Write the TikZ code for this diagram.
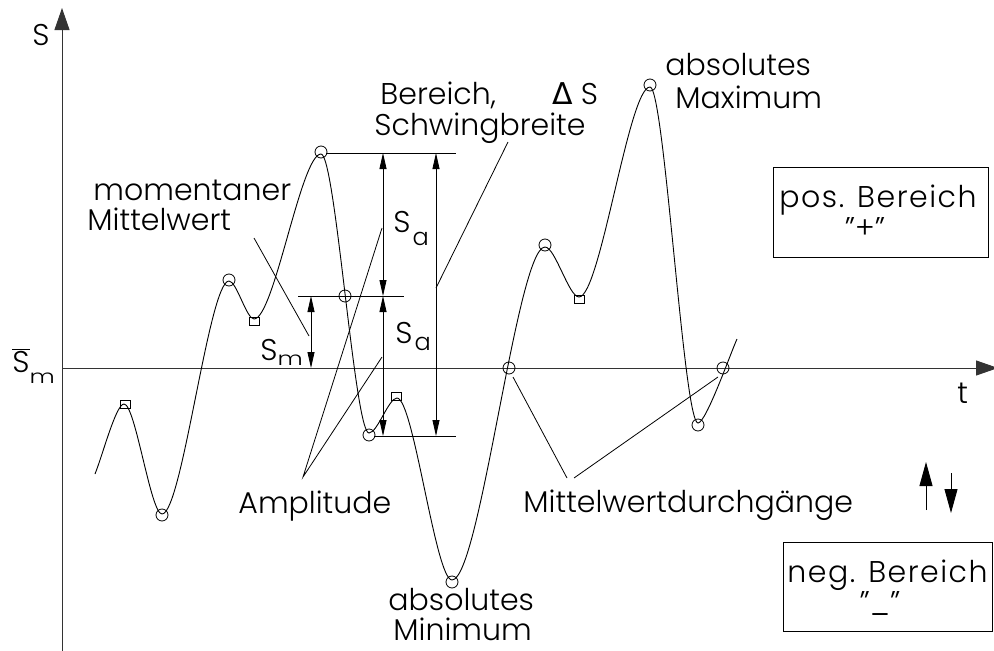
\documentclass[tikz,border=0pt]{standalone}
\usepackage{fontspec}
\setmainfont{Poppins}[UprightFont={* Light}]
\newfontfamily\dejavu{DejaVu Sans}
\usetikzlibrary{arrows.meta}
\begin{document}
\begin{tikzpicture}[x=1pt,y=-1pt, line width=0.9pt,
  lbl/.style={font=\fontsize{30}{30}\selectfont, inner sep=0pt, anchor=base west},
  lblc/.style={font=\fontsize{30}{30}\selectfont, inner sep=0pt, anchor=base},
  boxlbl/.style={font=\fontsize{30}{30}\selectfont\addfontfeatures{LetterSpace=5}, inner sep=0pt, anchor=base west},
  dim/.style={line width=0.8pt, {Triangle[length=16pt,width=7pt]}-{Triangle[length=16pt,width=7pt]}},
  lead/.style={line width=0.8pt},
  mk/.style={circle, draw, minimum size=12pt, inner sep=0pt, line width=0.8pt},
  sq/.style={rectangle, draw, minimum width=10pt, minimum height=8pt, inner sep=0pt, line width=0.8pt},
  axis/.style={line width=1pt, draw=black!80, -{Triangle[length=22pt,width=15pt]}},
  bigarrow/.style={line width=0.9pt, -{Triangle[length=24pt,width=13pt]}},
  boxst/.style={draw, line width=1pt},
]
\useasboundingbox (0,0) rectangle (994,651);

% axes
\coordinate (yb) at (62,651); \coordinate (yt) at (62,8);
\coordinate (xl) at (62,368); \coordinate (xr) at (998,368);
\draw[axis] (yb) -- (yt);
\draw[axis] (xl) -- (xr);
\node[lbl] (lS) at (32,45) {S};
\node[lbl] (lt) at (957,403) {t};
\node[lbl] (lSm) at (12,372) {$\overline{\mbox{S}}$\raisebox{-11pt}{\scalebox{1.3}[1]{\fontsize{19}{19}\selectfont m}}};

% curve
\coordinate (P0) at (95,474);
\coordinate (P1) at (124,404);
\coordinate (P2) at (162,514);
\coordinate (P3) at (229,281);
\coordinate (P4) at (254,319);
\coordinate (P5) at (321,154);
\coordinate (P6) at (369,433);
\coordinate (P7) at (397,398);
\coordinate (P8) at (452,580);
\coordinate (P9) at (545,247);
\coordinate (P10) at (579,297);
\coordinate (P11) at (650,87);
\coordinate (P12) at (698,423);
\coordinate (P13) at (737,339);
\draw[line width=0.9pt] (P0) .. controls (103,454) and (116,404) .. (P1)
  .. controls (135.4,404) and (150.6,514) .. (P2)
  .. controls (182.1,514) and (208.9,281) .. (P3)
  .. controls (236.5,281) and (246.5,319) .. (P4)
  .. controls (274.1,319) and (300.9,154) .. (P5)
  .. controls (335.4,154) and (354.6,433) .. (P6)
  .. controls (377.4,433) and (388.6,398) .. (P7)
  .. controls (413.5,398) and (435.5,580) .. (P8)
  .. controls (479.9,580) and (517.1,247) .. (P9)
  .. controls (555.2,247) and (568.8,297) .. (P10)
  .. controls (600.3,297) and (628.7,87) .. (P11)
  .. controls (664.4,87) and (683.6,423) .. (P12)
  .. controls (706,423) and (731,352) .. (P13);

% markers
\node[mk] (m1) at (162,515) {};
\node[mk] (m2) at (229,280) {};
\node[mk] (m3) at (321,152) {};
\node[mk] (m4) at (345,296) {};
\node[mk] (m5) at (369,435) {};
\node[mk] (m6) at (452,582) {};
\node[mk] (m7) at (509,368) {};
\node[mk] (m8) at (545,245) {};
\node[mk] (m9) at (650,85) {};
\node[mk] (m10) at (698,425) {};
\node[mk] (m11) at (723,368) {};
\node[sq] (s1) at (125,404) {};
\node[sq] (s2) at (254,321.5) {};
\node[sq] (s3) at (396,396.5) {};
\node[sq] (s4) at (579.5,299) {};

% extension lines
\coordinate (eT1) at (326,153); \coordinate (eT2) at (456,153);
\coordinate (eM1) at (298,296); \coordinate (eM2) at (404,296);
\coordinate (eB1) at (374,436); \coordinate (eB2) at (456,436);
\draw[lead] (eT1) -- (eT2);
\draw[lead] (eM1) -- (eM2);
\draw[lead] (eB1) -- (eB2);

% dimension lines
\coordinate (dmT) at (311,296); \coordinate (dmB) at (311,368);
\coordinate (daT) at (383,153); \coordinate (daM) at (383,296); \coordinate (daB) at (383,436);
\coordinate (dsT) at (436,153); \coordinate (dsB) at (436,436);
\draw[dim] (dmT) -- (dmB);
\draw[dim] (daT) -- (daM);
\draw[dim] (daM) -- (daB);
\draw[dim] (dsT) -- (dsB);

% dimension labels
\node[lbl] (lSm2) at (260,360) {S\raisebox{-5pt}{\scalebox{1.3}[1]{\fontsize{19}{19}\selectfont m}}};
\node[lbl] (lSa1) at (393,232) {S\hspace{2pt}\raisebox{-13pt}{\fontsize{24}{24}\selectfont a}};
\node[lbl] (lSa2) at (395,343) {S\hspace{2pt}\raisebox{-7pt}{\fontsize{24}{24}\selectfont a}};

% texts
\node[lbl] (tmom) at (93,200) {momentaner};
\node[lbl] (tmit) at (87,230) {Mittelwert};
\node[lbl] (tber) at (380,104) {Bereich,};
\node[lbl] (tds) at (552,104) {{\dejavu Δ}\hspace{8pt}S};
\node[lbl] (tsch) at (374,135) {Schwingbreite};
\node[lbl] (tabs1) at (665,75) {absolutes};
\node[lbl] (tmax) at (675,108) {Maximum};
\node[lbl] (tamp) at (238,513) {Amplitude};
\node[lbl] (tmwd) at (523,512) {Mittelwertdurchgänge};
\node[lbl] (tabs2) at (388,610) {absolutes};
\node[lbl] (tmin) at (393,640) {Minimum};

% leaders
\coordinate (lm1) at (254,238); \coordinate (lm2) at (309,336);
\draw[lead] (lm1) -- (lm2);
\coordinate (la0) at (303,477); \coordinate (la1) at (382,228); \coordinate (la2) at (382,357);
\draw[lead] (la1) -- (la0) -- (la2);
\coordinate (lb1) at (508,142); \coordinate (lb2) at (436,288);
\draw[lead] (lb1) -- (lb2);
\coordinate (lw1) at (567,478); \coordinate (lw2) at (513,377);
\coordinate (lw3) at (574,478); \coordinate (lw4) at (718,377);
\draw[lead] (lw1) -- (lw2);
\draw[lead] (lw3) -- (lw4);

% boxes
\draw[boxst] (773,167) rectangle (988,257);
\node[boxlbl] (tpos) at (779,207) {pos. Bereich};
\node[lblc] (tplus) at (865,238) {”+”};
\draw[boxst] (783,542) rectangle (992,631);
\node[boxlbl] (tneg) at (787,582) {neg. Bereich};
\node[lblc] (tminus) at (880,612) {”\_”};

% up/down arrows
\coordinate (ua1) at (926,510); \coordinate (ua2) at (926,462);
\coordinate (da1) at (951,473); \coordinate (da2) at (951,513);
\draw[bigarrow] (ua1) -- (ua2);
\draw[bigarrow] (da1) -- (da2);
\end{tikzpicture}
\end{document}
